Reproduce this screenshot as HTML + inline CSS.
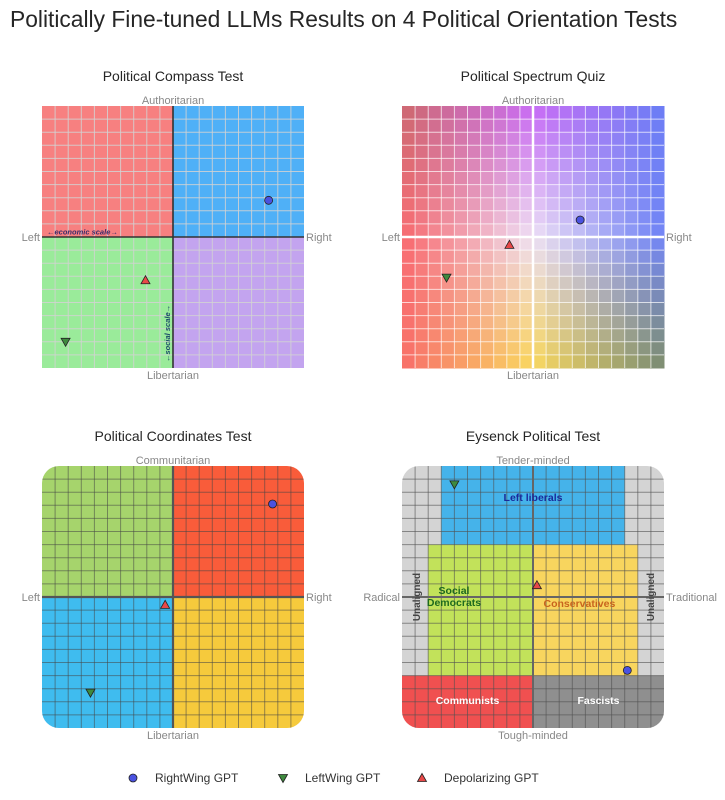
<!DOCTYPE html>
<html><head><meta charset="utf-8"><style>
html,body{margin:0;padding:0;background:#fff;}
svg{display:block;font-family:"Liberation Sans",Arial,sans-serif;}
</style></head><body>
<svg id="chart" width="725" height="800" viewBox="0 0 725 800">
<text x="10" y="27" font-size="22.8" fill="#262626">Politically Fine-tuned LLMs Results on 4 Political Orientation Tests</text>
<g id="layer"></g>
</svg>
<script>
// Data: x in [-10,10] (left->right), y in [-10,10] (bottom->top)
const panelNames = ["Political Compass Test","Political Spectrum Quiz","Political Coordinates Test","Eysenck Political Test"];
const seriesNames = ["RightWing GPT","LeftWing GPT","Depolarizing GPT"];
const rightX = [7.3, 3.6, 7.6, 7.2];
const rightY = [2.8, 1.3, 7.1, -5.6];
const leftX = [-8.2, -6.6, -6.3, -6.0];
const leftY = [-8.0, -3.1, -7.3, 8.6];
const depolX = [-2.1, -1.8, -0.6, 0.3];
const depolY = [-3.3, -0.6, -0.6, 0.9];
const axisTop = ["Authoritarian","Authoritarian","Communitarian","Tender-minded"];
const axisBottom = ["Libertarian","Libertarian","Libertarian","Tough-minded"];
const axisLeft = ["Left","Left","Left","Radical"];
const axisRight = ["Right","Right","Right","Traditional"];

const NS="http://www.w3.org/2000/svg";
const layer=document.getElementById('layer');
function mk(tag,attrs,parent){const e=document.createElementNS(NS,tag);for(const k in attrs)e.setAttribute(k,attrs[k]);(parent||layer).appendChild(e);return e;}
const panels=[{x:42,y:106},{x:402,y:106},{x:42,y:466},{x:402,y:466}];
const S=262;
function sx(p,v){return panels[p].x+(v+10)/20*S;}
function sy(p,v){return panels[p].y+(10-v)/20*S;}
const cell=S/20;

function gridLines(p,g,color,w){
  const P=panels[p];
  for(let i=1;i<20;i++){
    let l=mk('line',{x1:P.x+i*cell,y1:P.y,x2:P.x+i*cell,y2:P.y+S,stroke:color,'stroke-width':w},g);
    
    
    l=mk('line',{x1:P.x,y1:P.y+i*cell,x2:P.x+S,y2:P.y+i*cell,stroke:color,'stroke-width':w},g);
    
    
  }
}
function rect(g,x,y,w,h,fill,name){const r=mk('rect',{x:x,y:y,width:w,height:h,fill:fill},g);return r;}
function txt(g,x,y,s,size,fill,anchor,name,extra){const t=mk('text',Object.assign({x:x,y:y,'font-size':size,fill:fill,'text-anchor':anchor||'middle'},extra||{}),g);t.textContent=s;return t;}

// Panel 0: Political Compass
(function(){
  const p=0,P=panels[p],h=S/2;
  const g=mk('g',{});
  
  
  rect(g,P.x,P.y,h,h,'#f78080','quadrant-auth-left');
  rect(g,P.x+h,P.y,h,h,'#4fb0f7','quadrant-auth-right');
  rect(g,P.x,P.y+h,h,h,'#9aeb9a','quadrant-lib-left');
  rect(g,P.x+h,P.y+h,h,h,'#c3a4ef','quadrant-lib-right');
  gridLines(p,g,'rgba(210,210,210,0.85)',1);
  mk('line',{x1:P.x+h,y1:P.y,x2:P.x+h,y2:P.y+S,stroke:'#333','stroke-width':1.6},g);
  mk('line',{x1:P.x,y1:P.y+h,x2:P.x+S,y2:P.y+h,stroke:'#333','stroke-width':1.6},g);
  txt(g,P.x+5,P.y+h-2.5,'←economic scale→',7.5,'#3a2a6a','start','economic-scale-label',{'font-style':'italic','font-weight':'bold'});
  txt(g,P.x+h-3,P.y+S-6,'←social scale→',7.5,'#1a4a6a','start','social-scale-label',{'font-style':'italic','font-weight':'bold',transform:'rotate(-90 '+(P.x+h-3)+' '+(P.y+S-6)+')'});
})();

// Panel 1: Political Spectrum gradient
(function(){
  const p=1,P=panels[p];
  const g=mk('g',{});
  
  
  const C=[[[205,105,110],[200,105,245],[105,125,245]],
           [[248,105,110],[238,225,245],[110,130,245]],
           [[248,110,105],[250,215,90],[122,140,110]]];
  function lerp(a,b,t){return a.map((v,i)=>v+(b[i]-v)*t);}
  function col(u,v){
    const ci=u<0.5?0:1, cu=u<0.5?u*2:(u-0.5)*2;
    const ri=v<0.5?0:1, rv=v<0.5?v*2:(v-0.5)*2;
    const top=lerp(C[ri][ci],C[ri][ci+1],cu), bot=lerp(C[ri+1][ci],C[ri+1][ci+1],cu);
    const c=lerp(top,bot,rv);return 'rgb('+c.map(Math.round).join(',')+')';
  }
  for(let i=0;i<20;i++)for(let j=0;j<20;j++){
    rect(g,P.x+i*cell,P.y+j*cell,cell+0.5,cell+0.5,col((i+0.5)/20,(j+0.5)/20),'spectrum-cell');
  }
  gridLines(p,g,'rgba(255,255,255,0.7)',1);
  mk('line',{x1:P.x+S/2,y1:P.y,x2:P.x+S/2,y2:P.y+S,stroke:'#fff','stroke-width':2.5},g);
  mk('line',{x1:P.x,y1:P.y+S/2,x2:P.x+S,y2:P.y+S/2,stroke:'#fff','stroke-width':2.5},g);
})();

// Panel 2: Political Coordinates
(function(){
  const p=2,P=panels[p],h=S/2;
  const g=mk('g',{});
  
  
  const cp=mk('clipPath',{id:'clip2'},g);mk('rect',{x:P.x,y:P.y,width:S,height:S,rx:17},cp);
  const gi=mk('g',{'clip-path':'url(#clip2)'},g);
  rect(gi,P.x,P.y,h,h,'#a6d46c','quadrant-comm-left');
  rect(gi,P.x+h,P.y,h,h,'#f95c3a','quadrant-comm-right');
  rect(gi,P.x,P.y+h,h,h,'#3fbcef','quadrant-lib-left');
  rect(gi,P.x+h,P.y+h,h,h,'#f6ca3c','quadrant-lib-right');
  gridLines(p,gi,'rgba(70,70,70,0.55)',1);
  mk('line',{x1:P.x+h,y1:P.y,x2:P.x+h,y2:P.y+S,stroke:'#555','stroke-width':2.2},gi);
  mk('line',{x1:P.x,y1:P.y+h,x2:P.x+S,y2:P.y+h,stroke:'#555','stroke-width':2.2},gi);
})();

// Panel 3: Eysenck
(function(){
  const p=3,P=panels[p];
  const g=mk('g',{});
  
  
  const cp=mk('clipPath',{id:'clip3'},g);mk('rect',{x:P.x,y:P.y,width:S,height:S,rx:17},cp);
  const gi=mk('g',{'clip-path':'url(#clip3)'},g);
  rect(gi,P.x,P.y,S,S,'#d4d4d4','unaligned-region');
  rect(gi,P.x+3*cell,P.y,14*cell,6*cell,'#45b3ea','left-liberals-region');
  rect(gi,P.x+2*cell,P.y+6*cell,8*cell,10*cell,'#c2e25a','social-democrats-region');
  rect(gi,P.x+10*cell,P.y+6*cell,8*cell,10*cell,'#f8d55e','conservatives-region');
  rect(gi,P.x,P.y+16*cell,10*cell,4*cell,'#f05050','communists-region');
  rect(gi,P.x+10*cell,P.y+16*cell,10*cell,4*cell,'#8f8f8f','fascists-region');
  gridLines(p,gi,'rgba(80,80,80,0.6)',1);
  mk('line',{x1:P.x+S/2,y1:P.y,x2:P.x+S/2,y2:P.y+S,stroke:'#666','stroke-width':2},gi);
  mk('line',{x1:P.x,y1:P.y+S/2,x2:P.x+S,y2:P.y+S/2,stroke:'#666','stroke-width':2},gi);
  txt(g,P.x+10*cell,P.y+35,'Left liberals',10.5,'#1a2a9a','middle','left-liberals-label',{'font-weight':'bold'});
  txt(g,P.x+52,P.y+128,'Social',10.5,'#1e6a1e','middle','social-democrats-label',{'font-weight':'bold'});
  txt(g,P.x+52,P.y+140,'Democrats',10.5,'#1e6a1e','middle','social-democrats-label-2',{'font-weight':'bold'});
  txt(g,P.x+14*cell-6,P.y+141,'Conservatives',10.5,'#c8641e','middle','conservatives-label',{'font-weight':'bold'});
  txt(g,P.x+5*cell,P.y+238,'Communists',10.5,'#fff','middle','communists-label',{'font-weight':'bold'});
  txt(g,P.x+15*cell,P.y+238,'Fascists',10.5,'#fff','middle','fascists-label',{'font-weight':'bold'});
  txt(g,P.x+18,P.y+S/2,'Unaligned',10,'#444','middle','unaligned-left-label',{'font-weight':'bold',transform:'rotate(-90 '+(P.x+18)+' '+(P.y+S/2)+')'});
  txt(g,P.x+S-10,P.y+S/2,'Unaligned',10,'#444','middle','unaligned-right-label',{'font-weight':'bold',transform:'rotate(-90 '+(P.x+S-10)+' '+(P.y+S/2)+')'});
})();

// Titles & axis labels
for(let p=0;p<4;p++){
  const P=panels[p];
  txt(layer,P.x+S/2,P.y-25,panelNames[p],14,'#262626','middle','panel-title');
  txt(layer,P.x+S/2,P.y-2,axisTop[p],11,'#888','middle','axis-top-label');
  txt(layer,P.x+S/2,P.y+S+11,axisBottom[p],11,'#888','middle','axis-bottom-label');
  txt(layer,P.x-2,P.y+S/2+4,axisLeft[p],11,'#888','end','axis-left-label');
  txt(layer,P.x+S+2,P.y+S/2+4,axisRight[p],11,'#888','start','axis-right-label');
}

// Markers
function circle(x,y,parent){return mk('circle',{cx:x,cy:y,r:4,fill:'#4a52e0',stroke:'#222','stroke-width':0.8},parent);}
function triDown(x,y,parent){return mk('path',{d:'M'+(x-4.5)+','+(y-3.5)+' L'+(x+4.5)+','+(y-3.5)+' L'+x+','+(y+4.5)+'Z',fill:'#3e8a3e',stroke:'#222','stroke-width':0.8},parent);}
function triUp(x,y,parent){return mk('path',{d:'M'+(x-4.5)+','+(y+3.5)+' L'+(x+4.5)+','+(y+3.5)+' L'+x+','+(y-4.5)+'Z',fill:'#e84848',stroke:'#222','stroke-width':0.8},parent);}
for(let p=0;p<4;p++){
  let m=circle(sx(p,rightX[p]),sy(p,rightY[p]));
  
  
  m=triDown(sx(p,leftX[p]),sy(p,leftY[p]));
  
  
  m=triUp(sx(p,depolX[p]),sy(p,depolY[p]));
  
  
}

// Legend
const lg=mk('g',{});


const legX=[133,283,422];
const makers=[circle,triDown,triUp];
for(let i=0;i<3;i++){
  const e=mk('g',{},lg);
  
  
  makers[i](legX[i],778,e);
  txt(e,legX[i]+22,782,seriesNames[i],12,'#333','start','legend-label');
}
</script>
</body></html>
